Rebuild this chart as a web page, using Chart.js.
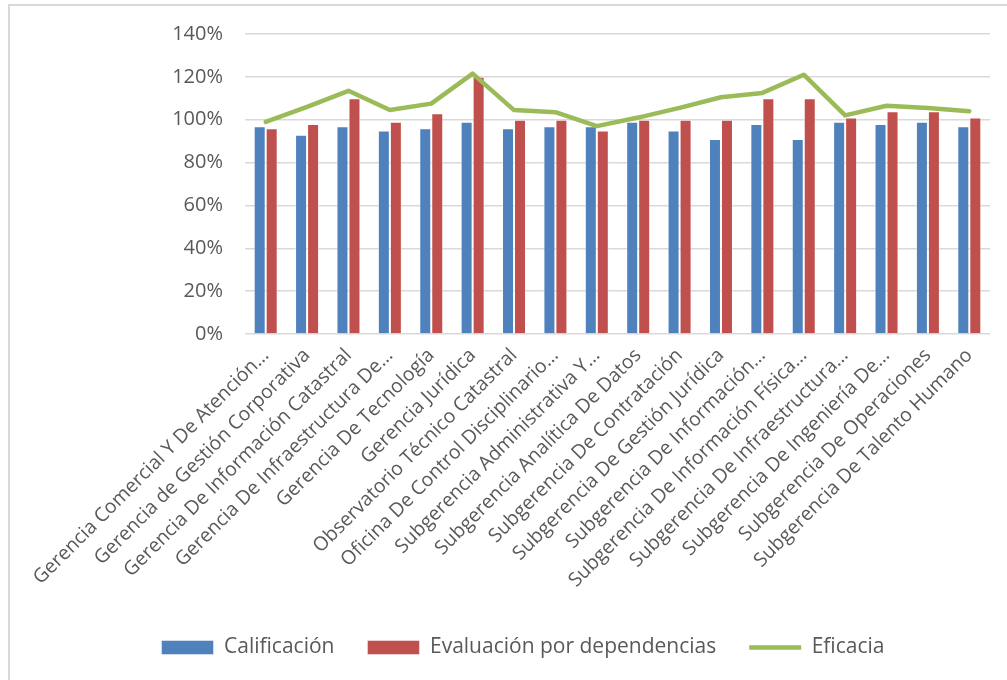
<!DOCTYPE html>
<html>
<head>
<meta charset="utf-8">
<script src="https://cdn.jsdelivr.net/npm/chart.js@4.4.1/dist/chart.umd.min.js"></script>
<style>
  body { margin: 0; background: #fff; overflow: hidden; }
  #frame { position: absolute; left: 8px; top: 4px; width: 1100px; height: 800px;
           border-left: 2px solid #d9d9d9; border-top: 2px solid #d9d9d9; }
  #chart { position: absolute; left: 0; top: 0; }
</style>
</head>
<body>
<div id="frame"></div>
<canvas id="chart" width="1007" height="680"></canvas>
<script>
// ----- Data -----
const dependencias = [
  "Gerencia Comercial Y De Atención…",
  "Gerencia de Gestión Corporativa",
  "Gerencia De Información Catastral",
  "Gerencia De Infraestructura De…",
  "Gerencia De Tecnología",
  "Gerencia Jurídica",
  "Observatorio Técnico Catastral",
  "Oficina De Control Disciplinario…",
  "Subgerencia Administrativa Y…",
  "Subgerencia Analítica De Datos",
  "Subgerencia De Contratación",
  "Subgerencia De Gestión Jurídica",
  "Subgerencia De Información…",
  "Subgerencia De Información Física…",
  "Subgerencia De Infraestructura…",
  "Subgerencia De Ingeniería De…",
  "Subgerencia De Operaciones",
  "Subgerencia De Talento Humano"
];
const calificacion = [97, 93, 97, 95, 96, 99, 96, 97, 97, 99, 95, 91, 98, 91, 99, 98, 99, 97];
const evaluacion   = [96, 98, 110, 99, 103, 120, 100, 100, 95, 100, 100, 100, 110, 110, 101, 104, 104, 101];
const eficacia     = [99, 106, 113.5, 104.5, 107.5, 121.5, 104.5, 103.5, 97, 101, 105.5, 110.5, 112.5, 121, 102, 106.5, 105.5, 104];
const yTicks = [0, 20, 40, 60, 80, 100, 120, 140];

const textColor = "#595959";
const fontFamily = "'Open Sans', sans-serif";
const padLeft = 56;

const ctx = document.getElementById("chart").getContext("2d");
new Chart(ctx, {
  type: "bar",
  data: {
    labels: dependencias,
    datasets: [
      {
        label: "Calificación",
        data: calificacion,
        backgroundColor: "#4F81BD",
        borderColor: "rgba(255,255,255,0.45)",
        borderWidth: 1,
        pointStyle: "rect",
        order: 1
      },
      {
        label: "Evaluación por dependencias",
        data: evaluacion,
        backgroundColor: "#C0504D",
        borderColor: "rgba(255,255,255,0.45)",
        borderWidth: 1,
        pointStyle: "rect",
        order: 1
      },
      {
        type: "line",
        label: "Eficacia",
        data: eficacia,
        borderColor: "#9BBB59",
        backgroundColor: "#9BBB59",
        borderWidth: 4.5,
        borderCapStyle: "round",
        borderJoinStyle: "round",
        pointRadius: 0,
        pointStyle: "line",
        tension: 0,
        order: 0
      }
    ]
  },
  options: {
    responsive: false,
    animation: false,
    layout: { padding: { left: padLeft, right: 17, top: 33, bottom: 12 } },
    categoryPercentage: 0.58,
    barPercentage: 1,
    plugins: {
      title: { display: false },
      tooltip: { enabled: false },
      legend: {
        position: "bottom",
        labels: {
          color: textColor,
          font: { family: fontFamily, size: 21 },
          usePointStyle: true,
          pointStyleWidth: 52,
          boxHeight: 14,
          padding: 33,
          sort: (a, b) => a.datasetIndex - b.datasetIndex
        }
      }
    },
    scales: {
      x: {
        grid: { display: false },
        border: { display: false },
        ticks: {
          color: textColor,
          font: { family: fontFamily, size: 19.5 },
          minRotation: 45,
          maxRotation: 45,
          autoSkip: false,
          padding: 2
        },
        afterFit: (axis) => { axis.height = 270; }
      },
      y: {
        min: 0,
        max: 140,
        afterBuildTicks: (axis) => { axis.ticks = yTicks.map(v => ({ value: v })); },
        grid: { color: "#d9d9d9", lineWidth: 1.5, drawTicks: false },
        border: { display: false },
        ticks: {
          color: textColor,
          font: { family: fontFamily, size: 20 },
          padding: 22,
          callback: (v) => v + "%"
        },
        afterFit: (axis) => { axis.width = 245 - padLeft; }
      }
    }
  }
});
</script>
</body>
</html>
